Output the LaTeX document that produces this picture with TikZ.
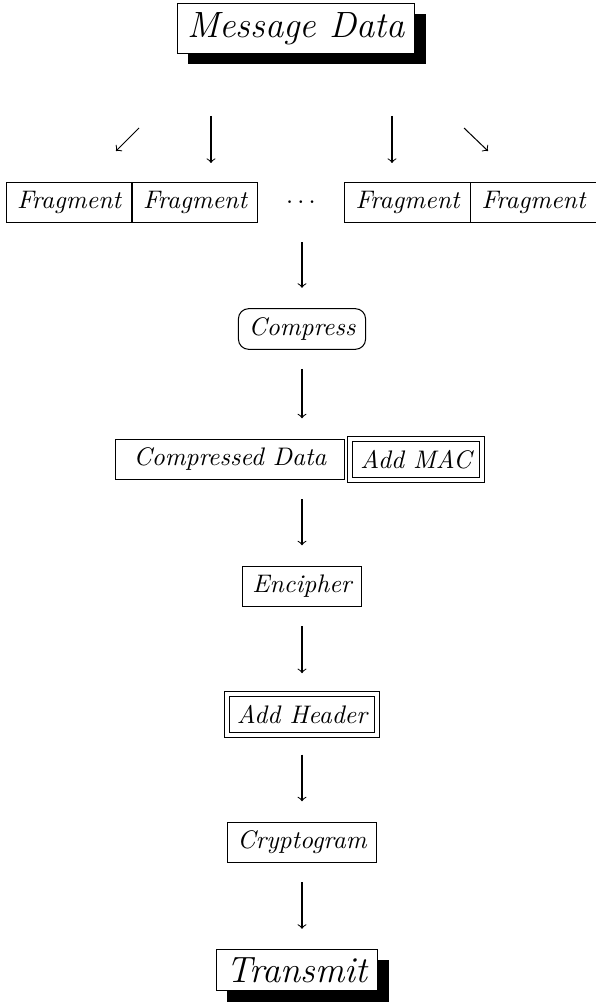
\documentclass[tikz,border=0pt]{standalone}
\usetikzlibrary{positioning, calc}

\tikzstyle{box} = [rectangle,
draw=black,
fill=white,
inner xsep=4pt,
inner ysep=3pt,
minimum height=16pt,
text centered,
font=\itshape]
\tikzstyle{frag} = [box, minimum width=49.6pt]
\tikzstyle{roundbox} = [box, rounded corners=4pt]
\tikzstyle{dblbox} = [box, double, double distance=1.5pt, line width=.5pt]
\tikzstyle{shadowbox} = [box, font=\Large\itshape]
\tikzstyle{tip} = [->, >=to]
\tikzstyle{arrow} = [tip, shorten <=7.5pt, shorten >=8pt]

% black shadow on the right and below a node
\newcommand{\boxshadow}[1]{%
  \fill ([yshift=-4.3pt]#1.north east) rectangle ([xshift=4.3pt]#1.south east);
  \fill ([xshift=4.3pt]#1.south west) rectangle ([xshift=4.3pt,yshift=-4.3pt]#1.south east);}

\begin{document}
\begin{tikzpicture}[x=0.3937pt, y=-0.3937pt]
			\useasboundingbox (0,0) rectangle (596,1002);

			\node (msg) [shadowbox, minimum height=19.3pt] at (296,28.5) {Message Data};
			\boxshadow{msg}

			% split into fragments
			\coordinate (sw1) at (139,128);
			\coordinate (sw2) at (116,151);
			\coordinate (dl1) at (211,116);
			\coordinate (dl2) at (211,163);
			\coordinate (dr1) at (392,116);
			\coordinate (dr2) at (392,163);
			\coordinate (se1) at (464,128);
			\coordinate (se2) at (488,151);
			\draw[tip] (sw1) -- (sw2);
			\draw[tip] (dl1) -- (dl2);
			\draw[tip] (dr1) -- (dr2);
			\draw[tip] (se1) -- (se2);

			\node (frag1) [frag] at (69,202.5) {Fragment};
			\node (frag2) [frag, right=-0.4pt of frag1] {Fragment};
			\node (dots) at (301,202.5) {$\cdots$};
			\node (frag3) [frag] at (407.5,202.5) {Fragment};
			\node (frag4) [frag, right=-0.4pt of frag3] {Fragment};

			\node (comp) [roundbox] at (302,329) {Compress};
			\node (cdata) [box, minimum width=89.8pt] at (230,459.5) {Compressed Data};
			\node (mac) [dblbox, right=2pt of cdata] {Add MAC};
			\node (enc) [box] at (302,586.5) {Encipher};
			\node (hdr) [dblbox] at (302,714.5) {Add Header};
			\node (crypt) [box] at (302,842.5) {Cryptogram};
			\node (tx) [shadowbox] at (297,970) {Transmit};
			\boxshadow{tx}

			\draw[arrow] (frag2.south -| comp.north) -- (comp.north);
			\draw[arrow] (comp.south) -- (comp.south |- cdata.north);
			\draw[arrow] (enc.north |- cdata.south) -- (enc.north);
			\draw[arrow] (enc) -- (hdr);
			\draw[arrow] (hdr) -- (crypt);
			\draw[arrow] (crypt.south) -- (crypt.south |- tx.north);
		\end{tikzpicture}
\end{document}
